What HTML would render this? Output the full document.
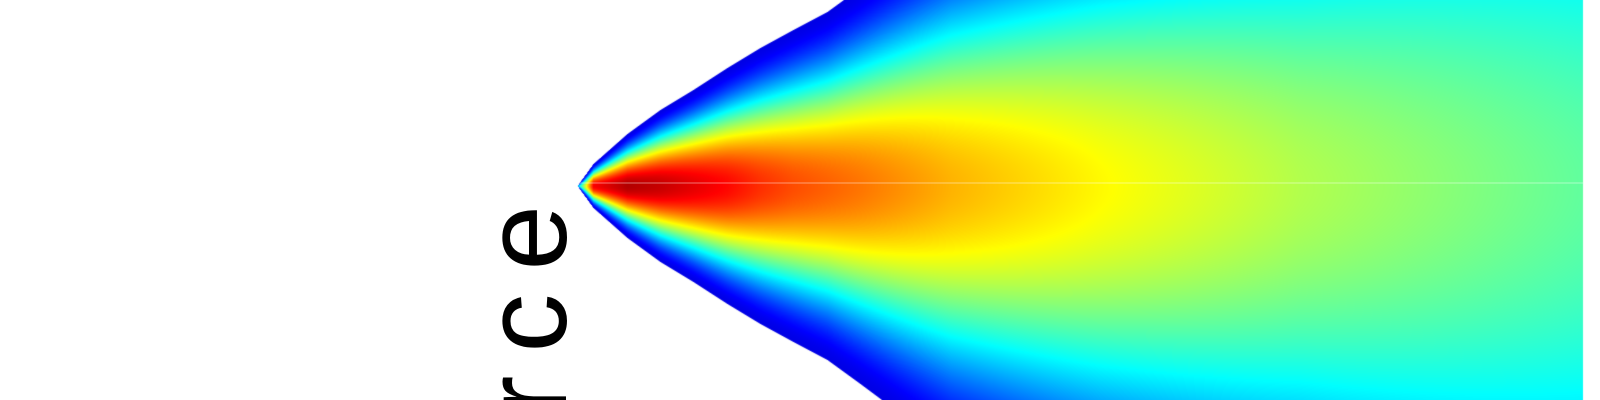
<!DOCTYPE html>
<html><head><meta charset="utf-8"><style>
html,body{margin:0;padding:0;background:#fff;width:1600px;height:400px;overflow:hidden}
#wrap{position:relative;width:1600px;height:400px;overflow:hidden}
canvas,svg{position:absolute;left:0;top:0}
svg{overflow:hidden}
</style></head><body>
<div id="wrap">
<canvas id="cv" width="1600" height="400"></canvas>
<svg width="1600" height="400">
<line x1="577" y1="183" x2="1583" y2="183" stroke="rgba(255,255,255,0.3)" stroke-width="1.5"/>
<text transform="translate(566,182) rotate(-90)" text-anchor="end" font-family="Liberation Sans, sans-serif" font-size="118" letter-spacing="23" fill="#000">Source</text>
</svg>
</div>
<script>
// distance downstream (px) sample stations
const stationX = [577, 593, 627, 660, 693, 727, 760, 793, 827, 860, 950, 1100, 1300, 1583];
// plume half-width at each station
const halfWidth = [0, 22, 52, 76, 96, 118, 138, 156, 174, 198, 265, 340, 420, 555];
// centerline concentration (normalized 0..1)
const centerConc = [0.3, 0.88, 0.95, 0.93, 0.9, 0.87, 0.83, 0.8, 0.78, 0.76, 0.7, 0.63, 0.55, 0.47];
const edgeConc = 0.1;
const centerY = 186;
const xEnd = 1583;

function interp(arr, x){
  if (x <= stationX[0]) return arr[0];
  for (let i=1;i<stationX.length;i++){
    if (x <= stationX[i]){
      const t=(x-stationX[i-1])/(stationX[i]-stationX[i-1]);
      return arr[i-1]+(arr[i]-arr[i-1])*t;
    }
  }
  return arr[arr.length-1];
}
function jet(v){
  const c = (a)=>Math.max(0,Math.min(1,a));
  const r=c(1.5-Math.abs(4*v-3)), g=c(1.5-Math.abs(4*v-2)), b=c(1.5-Math.abs(4*v-1));
  return [r*255,g*255,b*255];
}
const cv=document.getElementById('cv');
const ctx=cv.getContext('2d');
const img=ctx.createImageData(1600,400);
const d=img.data;
for(let i=0;i<d.length;i+=4){d[i]=255;d[i+1]=255;d[i+2]=255;d[i+3]=255;}
for(let x=stationX[0];x<xEnd;x++){
  const b=interp(halfWidth,x), cc=interp(centerConc,x);
  if(b<=0) continue;
  for(let y=0;y<400;y++){
    const dy=Math.abs(y+0.5-centerY);
    const t=dy/b;
    if(t>=1.01) continue;
    const tt=Math.min(t,1);
    const g=Math.pow(1-tt*tt,2);
    const v=edgeConc+(cc-edgeConc)*g;
    const col=jet(v);
    const a=Math.max(0,Math.min(1,(b-dy)+0.5));
    const k=(y*1600+x)*4;
    d[k]=col[0]*a+255*(1-a);d[k+1]=col[1]*a+255*(1-a);d[k+2]=col[2]*a+255*(1-a);
  }
}
ctx.putImageData(img,0,0);
</script>
</body></html>
